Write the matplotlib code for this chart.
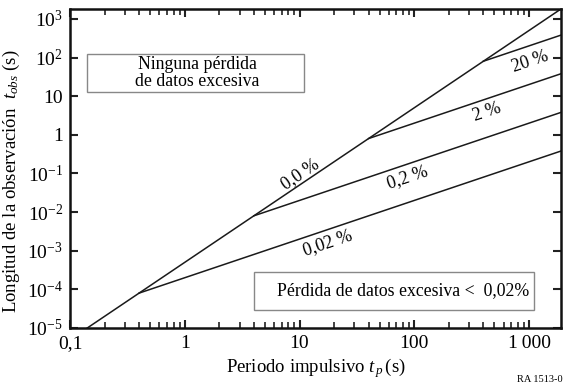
import matplotlib
matplotlib.use("Agg")
import matplotlib.pyplot as plt
from matplotlib.ticker import FixedLocator, FixedFormatter, LogLocator, NullFormatter
from matplotlib.patches import Rectangle

plt.rcParams['font.family'] = ['Liberation Serif', 'DejaVu Serif']
plt.rcParams['mathtext.fontset'] = 'custom'
plt.rcParams['mathtext.rm'] = 'Liberation Serif'
plt.rcParams['mathtext.it'] = 'Liberation Serif:italic'

# Data: 0,0 % boundary line (pulse period vs observation length)
base_tp = [0.1, 0.4, 4, 40, 400, 1900]
base_tobs = [5e-6, 8e-5, 8e-3, 0.8, 80, 1805]

# Branch lines for excess data loss percentages
loss_labels = ["0,02 %", "0,2 %", "2 %", "20 %"]
branch_start_tp = [0.4, 4, 40, 400]
branch_start_tobs = [8e-5, 8e-3, 0.8, 80]
branch_end_tp = [1900, 1900, 1900, 1900]
branch_end_tobs = [0.38, 3.8, 38, 380]

x_ticks = [0.1, 1, 10, 100, 1000]
x_ticklabels = ["0,1", "1", "10", "100", "1\u2009000"]
y_ticks = [1e-5, 1e-4, 1e-3, 1e-2, 1e-1, 1, 10, 1e2, 1e3]
y_ticklabels = ["10$^{-5}$", "10$^{-4}$", "10$^{-3}$", "10$^{-2}$", "10$^{-1}$",
                "1", "10", "10$^{2}$", "10$^{3}$"]

fig = plt.figure(figsize=(5.63, 3.85), dpi=100)
ax = fig.add_axes([70/563, 1-328/385, 491/563, 319/385])
ax.set_xscale('log')
ax.set_yscale('log')
ax.set_xlim(0.1, 1900)
ax.set_ylim(1e-5, 1800)

lc = '#1a1a1a'
ax.plot(base_tp, base_tobs, color=lc, lw=1.1)
for xs, ys, xe, ye in zip(branch_start_tp, branch_start_tobs, branch_end_tp, branch_end_tobs):
    ax.plot([xs, xe], [ys, ye], color=lc, lw=1.1)

fs_lab = 13
# line labels
ax.text(10.1, 0.096, "0,0 %", rotation=34, ha='center', va='center', fontsize=fs_lab)
label_pos = [(17.7, 1.58e-3), (88, 0.081), (430, 3.9), (1020, 77)]
for lab, (tx, ty) in zip(loss_labels, label_pos):
    ax.text(tx, ty, lab, rotation=18.6, ha='center', va='center', fontsize=fs_lab)

def pixrect(x0, y0, x1, y1):
    r = Rectangle((x0/563, 1-y1/385), (x1-x0)/563, (y1-y0)/385, transform=fig.transFigure,
                  fc='white', ec='#888888', lw=1.0, zorder=3)
    fig.add_artist(r)

pixrect(87, 54, 304, 92)
fig.text(197/563, 1-73/385, "Ninguna pérdida\nde datos excesiva", ha='center', va='center',
         fontsize=12.8, linespacing=1.0, zorder=4)
pixrect(254, 272, 534, 310)
fig.text(403/563, 1-291/385, "Pérdida de datos excesiva <  0,02%", ha='center', va='center',
         fontsize=12.8, zorder=4)

ax.xaxis.set_major_locator(FixedLocator(x_ticks))
ax.xaxis.set_major_formatter(FixedFormatter(x_ticklabels))
ax.xaxis.set_minor_locator(LogLocator(base=10, subs=[2, 3, 4, 5, 6, 7, 8, 9], numticks=20))
ax.xaxis.set_minor_formatter(NullFormatter())
ax.yaxis.set_major_locator(FixedLocator(y_ticks))
ax.yaxis.set_major_formatter(FixedFormatter(y_ticklabels))
ax.yaxis.set_minor_locator(FixedLocator([]))

ax.tick_params(which='major', direction='in', length=6, width=1.5, top=True, right=True,
               labelsize=14, pad=5, color='#222222')
ax.tick_params(which='minor', direction='in', length=4, width=1.2, top=True, right=False,
               color='#222222')
for s in ax.spines.values():
    s.set_linewidth(1.8)
    s.set_color('#111111')

ax.set_xlabel("Periodo impulsivo $t_{\\,p}\\,$(s)", fontsize=13.5, labelpad=3)
ax.set_ylabel("Longitud de la observación  $t_{obs}$ (s)", fontsize=13.5)
ax.yaxis.set_label_coords(-0.097, 0.46)

fig.text(540/563, 1-379/385, "RA 1513-0", ha='center', va='center', fontsize=7.5)

fig.savefig("out.png", dpi=100)
